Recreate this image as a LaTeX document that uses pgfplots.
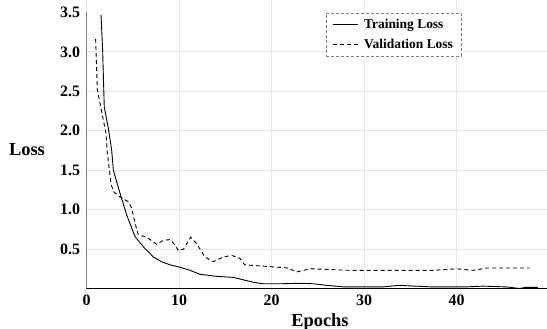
\documentclass[border=0pt]{standalone}
\usepackage{fontspec}
\setmainfont{Liberation Serif}
\usepackage{pgfplots}
\pgfplotsset{compat=1.18}
\definecolor{gridgray}{HTML}{E6E6E6}
\begin{document}
\begin{tikzpicture}[x=1bp,y=1bp]
\useasboundingbox (-86.5bp,-40.5bp) rectangle (460.5bp,288.5bp);
\begin{axis}[
  at={(0,0)}, anchor=south west,
  scale only axis, width=460.5bp, height=288.5bp,
  xmin=0, xmax=49.78, ymin=0, ymax=3.657,
  axis line style={draw=none},
  clip=true,
  xtick={0,10,20,30,40},
  ytick={0.5,1.0,1.5,2.0,2.5,3.0},
  extra y ticks={3.5},
  extra y tick style={grid=none},
  yticklabel style={/pgf/number format/fixed,/pgf/number format/fixed zerofill,/pgf/number format/precision=1},
  major tick length=0pt,
  tick style={draw=none},
  grid=major,
  major grid style={draw=gridgray, line width=0.9bp},
  /pgf/number format/assume math mode=true,
  ticklabel style={font=\bfseries\fontsize{16}{18}\selectfont},
  xticklabel style={yshift=-3bp},
  yticklabel style={xshift=-3bp},
  xlabel={Epochs},
  ylabel={Loss},
  xlabel style={font=\bfseries\fontsize{18.5}{20}\selectfont, at={(axis description cs:0.507,-0.085)}, anchor=north, inner sep=0pt},
  ylabel style={font=\bfseries\fontsize{18.5}{20}\selectfont, rotate=-90, at={(axis description cs:-0.090,0.48)}, anchor=east, inner sep=0pt},
  legend style={at={(axis description cs:0.52,0.955)}, anchor=north west,
    draw=gray, densely dashed, line width=0.5bp,
    font=\bfseries\fontsize{13.5}{15}\selectfont,
    inner xsep=6bp, inner ysep=4bp, row sep=5bp, column sep=4bp},
  legend image code/.code={\draw[#1] (0bp,0bp) -- (25bp,0bp);},
  legend cell align=left,
]
\addplot[black, solid, line width=0.9bp] coordinates {
(1.57,3.47) (1.75,3.0) (1.92,2.30) (2.36,2.03) (2.72,1.755) (2.9,1.50) (3.62,1.21) (4.35,0.93) (5.24,0.66) (6.14,0.53) (7.22,0.40) (8.1,0.34) (9.03,0.30) (10.1,0.27) (11.2,0.23) (12.27,0.18) (14.0,0.155) (15.9,0.14) (16.95,0.11) (18.0,0.08) (19.1,0.06) (21.0,0.06) (23.1,0.066) (24.5,0.06) (26,0.04) (27.8,0.02) (30,0.02) (32,0.02) (33.8,0.04) (35.5,0.03) (37.4,0.02) (41,0.02) (42.8,0.03) (45.4,0.02) (46.8,0.0) (47.5,0.015) (48.8,0.015)
};
\addlegendentry{Training Loss}
\addplot[black, line width=0.9bp, dash pattern=on 4bp off 3bp] coordinates {
(0.99,3.16) (1.17,2.52) (2.1,1.97) (2.25,1.72) (2.65,1.33) (2.9,1.23) (3.62,1.16) (4.52,1.10) (4.88,1.02) (5.24,0.83) (5.6,0.68) (6.5,0.65) (7.59,0.56) (8.3,0.61) (9.03,0.62) (9.57,0.55) (9.93,0.48) (10.5,0.50) (11.26,0.65) (11.9,0.57) (12.27,0.50) (12.8,0.40) (13.7,0.34) (14.8,0.40) (15.7,0.42) (16.6,0.38) (17.1,0.30) (19.5,0.28) (21.8,0.26) (22.7,0.21) (24.2,0.25) (28.5,0.23) (31.4,0.23) (37.5,0.23) (40,0.25) (41.8,0.23) (43.3,0.26) (47.9,0.26)
};
\addlegendentry{Validation Loss}
\draw[black!70, solid, line width=1bp] (axis cs:0,0) -- (axis cs:0,3.5);
\draw[black, solid, line width=1bp] (axis cs:0,0) -- (axis cs:49.78,0);
\end{axis}
\end{tikzpicture}
\end{document}
